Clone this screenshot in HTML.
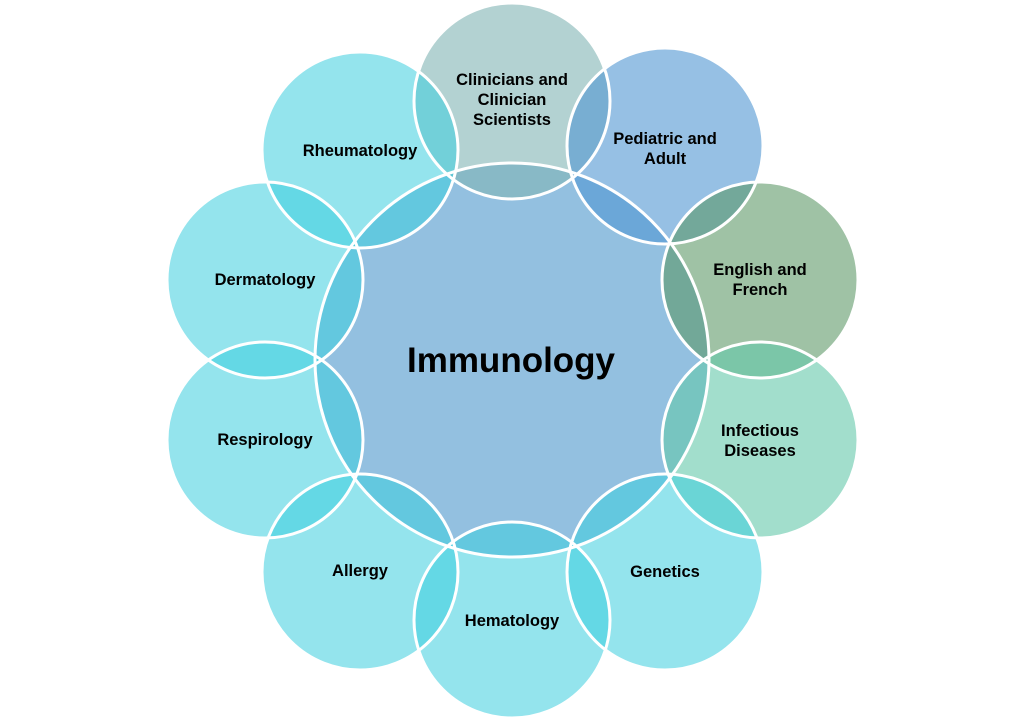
<!DOCTYPE html>
<html><head><meta charset="utf-8"><style>
html,body{margin:0;padding:0;background:#fff;}
svg{display:block;}
text{font-family:"Liberation Sans",sans-serif;font-weight:bold;fill:#000;text-anchor:middle;}
</style></head><body>
<svg width="1024" height="723" viewBox="0 0 1024 723" xmlns="http://www.w3.org/2000/svg">
<circle cx="512" cy="360" r="197" fill="#93c0e0"/>
<g>
<circle cx="512" cy="101" r="98" fill="rgba(128,180,180,0.6)"/>
<circle cx="665" cy="146" r="98" fill="rgba(80,150,210,0.6)"/>
<circle cx="760" cy="280" r="98" fill="rgba(90,150,100,0.58)"/>
<circle cx="760" cy="440" r="98" fill="rgba(100,200,170,0.6)"/>
<circle cx="665" cy="572" r="98" fill="rgba(60,205,222,0.55)"/>
<circle cx="512" cy="620" r="98" fill="rgba(60,205,222,0.55)"/>
<circle cx="360" cy="572" r="98" fill="rgba(60,205,222,0.55)"/>
<circle cx="265" cy="440" r="98" fill="rgba(60,205,222,0.55)"/>
<circle cx="265" cy="280" r="98" fill="rgba(60,205,222,0.55)"/>
<circle cx="360" cy="150" r="98" fill="rgba(60,205,222,0.55)"/>
</g>
<g fill="none" stroke="#fff" stroke-width="3">
<circle cx="512" cy="360" r="197"/>
<circle cx="512" cy="101" r="98"/>
<circle cx="665" cy="146" r="98"/>
<circle cx="760" cy="280" r="98"/>
<circle cx="760" cy="440" r="98"/>
<circle cx="665" cy="572" r="98"/>
<circle cx="512" cy="620" r="98"/>
<circle cx="360" cy="572" r="98"/>
<circle cx="265" cy="440" r="98"/>
<circle cx="265" cy="280" r="98"/>
<circle cx="360" cy="150" r="98"/>
</g>
<text x="511" y="372" font-size="35">Immunology</text>
<g font-size="16.5">
<text x="512" y="85">Clinicians and</text>
<text x="512" y="105">Clinician</text>
<text x="512" y="125">Scientists</text>
<text x="665" y="144">Pediatric and</text>
<text x="665" y="164">Adult</text>
<text x="760" y="275">English and</text>
<text x="760" y="295">French</text>
<text x="760" y="436">Infectious</text>
<text x="760" y="456">Diseases</text>
<text x="665" y="577">Genetics</text>
<text x="512" y="626">Hematology</text>
<text x="360" y="576">Allergy</text>
<text x="265" y="445">Respirology</text>
<text x="265" y="285">Dermatology</text>
<text x="360" y="156">Rheumatology</text>
</g>
</svg>
</body></html>
